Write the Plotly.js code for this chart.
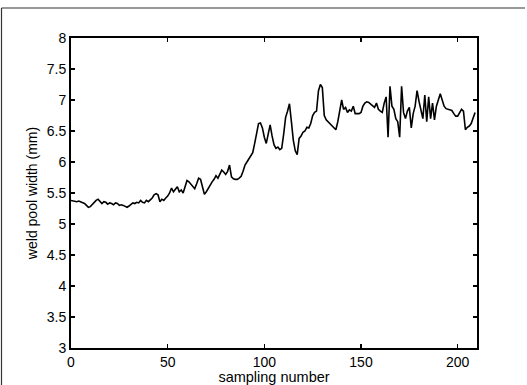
<!DOCTYPE html>
<html>
<head>
<meta charset="utf-8">
<script src="https://cdn.plot.ly/plotly-3.0.1.min.js"></script>
<style>html,body{margin:0;padding:0;background:#fff;}#chart{width:527px;height:385px;}</style>
</head>
<body>
<div id="chart"></div>
<script>
// weld pool width (mm) per sampling number 0..209
var widthValues = [
5.38,5.37,5.37,5.36,5.37,5.36,5.35,5.33,5.30,5.27,
5.28,5.32,5.35,5.38,5.40,5.37,5.33,5.36,5.35,5.32,
5.34,5.33,5.31,5.34,5.33,5.30,5.31,5.30,5.29,5.27,
5.29,5.31,5.34,5.33,5.35,5.34,5.38,5.35,5.34,5.38,
5.36,5.39,5.42,5.47,5.49,5.47,5.36,5.40,5.38,5.42,
5.45,5.50,5.58,5.52,5.56,5.60,5.52,5.55,5.50,5.60,
5.70,5.68,5.64,5.60,5.57,5.65,5.74,5.72,5.58,5.48,
5.52,5.58,5.62,5.68,5.72,5.78,5.74,5.82,5.87,5.84,
5.80,5.85,5.95,5.76,5.73,5.72,5.72,5.74,5.77,5.85,
5.95,6.00,6.05,6.10,6.15,6.30,6.48,6.62,6.63,6.55,
6.40,6.30,6.45,6.60,6.42,6.28,6.22,6.24,6.20,6.22,
6.45,6.72,6.82,6.94,6.65,6.35,6.18,6.12,6.38,6.42,
6.48,6.50,6.56,6.55,6.62,6.75,6.80,6.82,7.15,7.25,
7.20,6.75,6.68,6.65,6.62,6.58,6.55,6.52,6.65,6.85,
7.00,6.85,6.88,6.80,6.84,6.82,6.90,6.78,6.78,6.78,
6.80,6.90,6.95,6.97,6.96,6.93,6.90,6.88,6.95,6.85,
6.82,6.80,6.95,7.05,6.40,7.22,6.90,6.85,6.70,6.65,
6.40,7.22,6.80,6.70,6.82,6.88,6.55,6.78,6.90,7.15,
6.98,6.85,6.70,7.08,6.65,7.05,6.70,6.95,6.68,6.90,
7.00,7.10,7.00,6.90,6.86,6.85,6.84,6.83,6.78,6.74,
6.74,6.80,6.85,6.82,6.52,6.56,6.58,6.62,6.70,6.80
];
var samplingNumbers = widthValues.map(function(_, i){ return i; });
var xTickVals = [0, 50, 100, 150, 200];
var yTickVals = [3, 3.5, 4, 4.5, 5, 5.5, 6, 6.5, 7, 7.5, 8];
var yTickText = ['3', '3.5', '4', '4.5', '5', '5.5', '6', '6.5', '7', '7.5', '8'];

var W = 527, H = 385;
var m = {l: 71, r: 50, t: 38, b: 37};
var pw = W - m.l - m.r, ph = H - m.t - m.b;
function px(x){ return (x - m.l) / pw; }
function py(y){ return (H - m.b - y) / ph; }

var trace = {
  x: samplingNumbers, y: widthValues, type: 'scatter', mode: 'lines',
  line: {color: '#000', width: 1.6}, hoverinfo: 'skip'
};
var axisCommon = {
  showgrid: false, zeroline: false, showline: true, linecolor: '#000', linewidth: 2,
  mirror: 'ticks', ticks: 'inside', ticklen: 4, tickcolor: '#000', tickwidth: 1.2,
  tickfont: {family: 'Liberation Sans, Arial, sans-serif', size: 14, color: '#000'}
};
var layout = {
  width: W, height: H, margin: m, paper_bgcolor: '#fff', plot_bgcolor: '#fff',
  showlegend: false,
  font: {family: 'Liberation Sans, Arial, sans-serif', color: '#000'},
  xaxis: Object.assign({}, axisCommon, {
    range: [0, 210], tickmode: 'array', tickvals: xTickVals,
    title: {text: 'sampling number', font: {size: 14.5, color: '#000'}, standoff: 2}
  }),
  yaxis: Object.assign({}, axisCommon, {
    range: [3, 8], tickmode: 'array', tickvals: yTickVals, ticktext: yTickText,
    title: {text: 'weld pool width (mm)', font: {size: 14, color: '#000'}, standoff: 6}
  }),
  shapes: [
    {type: 'line', xref: 'paper', yref: 'paper', x0: px(1.5), x1: px(1.5), y0: py(8), y1: py(385), line: {color: '#333', width: 1.2}},
    {type: 'line', xref: 'paper', yref: 'paper', x0: px(1.5), x1: px(525), y0: py(8), y1: py(8), line: {color: '#333', width: 1.2}}
  ]
};
Plotly.newPlot('chart', [trace], layout, {displayModeBar: false, staticPlot: true});
</script>
</body>
</html>
